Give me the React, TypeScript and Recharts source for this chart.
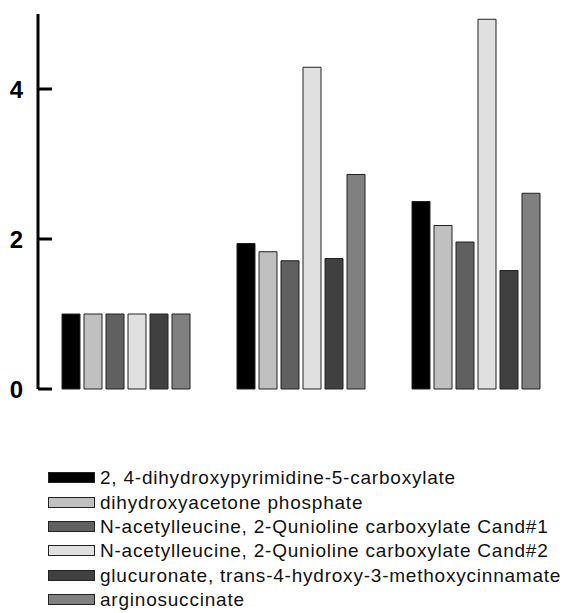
import React from 'react';
import { BarChart, Bar, XAxis, YAxis, Legend } from 'recharts';

const categories = ['Group 1', 'Group 2', 'Group 3'];
const seriesNames = [
  '2, 4-dihydroxypyrimidine-5-carboxylate',
  'dihydroxyacetone phosphate',
  'N-acetylleucine, 2-Qunioline carboxylate Cand#1',
  'N-acetylleucine, 2-Qunioline carboxylate Cand#2',
  'glucuronate, trans-4-hydroxy-3-methoxycinnamate',
  'arginosuccinate',
];
const seriesColors = ['#000000', '#c0c0c0', '#606060', '#e0e0e0', '#404040', '#808080'];
const s1 = [1.0, 1.94, 2.5];
const s2 = [1.0, 1.83, 2.18];
const s3 = [1.0, 1.71, 1.96];
const s4 = [1.0, 4.29, 4.93];
const s5 = [1.0, 1.74, 1.58];
const s6 = [1.0, 2.86, 2.61];
const seriesValues = [s1, s2, s3, s4, s5, s6];
const yTicks = [0, 2, 4];

const keys = seriesNames.map((_, i) => 's' + i);
const data = categories.map((c, ci) => {
  const row: any = { name: c };
  seriesValues.forEach((vals, si) => {
    row[keys[si]] = vals[ci];
  });
  return row;
});

const YTick = (props: any) => {
  const { x, y, payload } = props;
  return (
    <g>
      <line x1={x} x2={x + 14} y1={y} y2={y} stroke="#000" strokeWidth={3} />
      <text
        x={x - 15}
        y={y}
        dy={8.5}
        textAnchor="end"
        fontFamily="'Liberation Sans', Arial, sans-serif"
        fontWeight="bold"
        fontSize={24}
        fill="#000"
      >
        {payload.value}
      </text>
    </g>
  );
};

const LegendContent = () => (
  <div style={{ fontFamily: "'Liberation Sans', Arial, sans-serif" }}>
    {seriesNames.map((n, i) => (
      <div key={n} style={{ display: 'flex', alignItems: 'center', height: 24.4, whiteSpace: 'nowrap' }}>
        <svg width={52} height={12} style={{ marginLeft: 48, flex: 'none' }}>
          <rect x={0.5} y={0.5} width={46} height={10} fill={seriesColors[i]} stroke="#222" strokeWidth={1} />
        </svg>
        <span style={{ fontSize: 19, letterSpacing: 0.78, color: '#111' }}>{n}</span>
      </div>
    ))}
  </div>
);

export default function App() {
  return (
    <div style={{ position: 'absolute', left: 0, top: 0, width: 565, height: 613, background: '#fff', overflow: 'hidden' }}>
      <BarChart
        width={565}
        height={613}
        data={data}
        margin={{ top: 14, right: 2, bottom: 224, left: 0 }}
        barCategoryGap={24}
        barGap={4}
      >
        <XAxis
          dataKey="name"
          tick={false}
          tickLine={false}
          height={0}
          axisLine={{ stroke: '#000', strokeWidth: 3 }}
        />
        <YAxis
          width={38}
          domain={[0, 5]}
          ticks={yTicks}
          tickLine={false}
          tickSize={0}
          tickMargin={0}
          interval={0}
          tick={<YTick />}
          axisLine={{ stroke: '#000', strokeWidth: 3 }}
        />
        <Legend
          layout="horizontal"
          verticalAlign="middle"
          align="center"
          wrapperStyle={{ top: 466, left: 0, width: 565 }}
          content={<LegendContent />}
        />
        {keys.map((k, i) => (
          <Bar
            key={k}
            dataKey={k}
            name={seriesNames[i]}
            fill={seriesColors[i]}
            stroke="#222"
            strokeWidth={1}
            isAnimationActive={false}
          />
        ))}
      </BarChart>
    </div>
  );
}
